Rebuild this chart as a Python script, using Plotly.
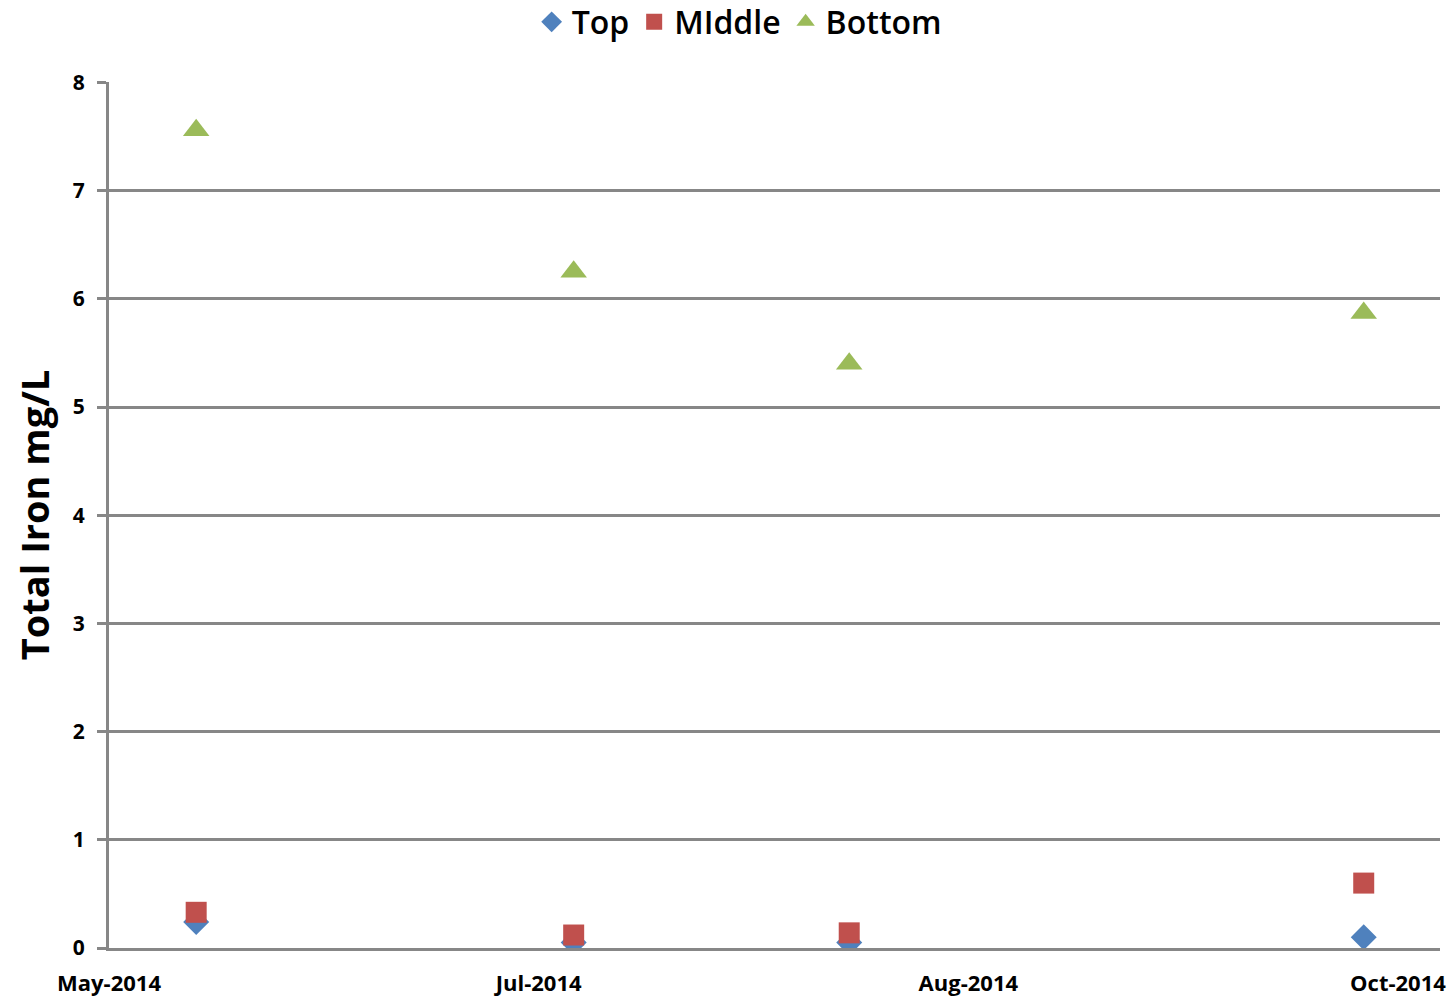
import plotly.graph_objects as go

# Sampling dates and total iron concentrations (mg/L) at three depths
dates = ["2014-05-29 08:00", "2014-07-08 18:00", "2014-08-07 06:00", "2014-10-01 08:00"]
top = [0.24, 0.05, 0.05, 0.10]
middle = [0.33, 0.12, 0.14, 0.60]
bottom = [7.56, 6.25, 5.40, 5.87]

tick_dates = ["2014-05-20", "2014-07-05", "2014-08-20", "2014-10-05"]
y_ticks = [0, 1, 2, 3, 4, 5, 6, 7, 8]

GRID = "#878787"
FONT = "Open Sans"

fig = go.Figure()
fig.add_trace(go.Scatter(
    x=dates, y=top, mode="markers", name="Top",
    marker=dict(symbol="diamond", size=20, color="#4F81BD"),
))
fig.add_trace(go.Scatter(
    x=dates, y=middle, mode="markers", name="MIddle",
    marker=dict(symbol="square", size=21, color="#C0504D"),
))
fig.add_trace(go.Scatter(
    x=dates, y=bottom, mode="markers", name="Bottom",
    marker=dict(symbol="triangle-up", size=23, color="#9BBB59"),
))

fig.update_layout(
    width=1455, height=1000,
    margin=dict(l=109, r=15, t=82, b=52),
    paper_bgcolor="white", plot_bgcolor="white",
    font=dict(family=FONT, color="black"),
    showlegend=True,
    legend=dict(
        orientation="h", x=0.508, xanchor="center", xref="container",
        y=0.978, yanchor="middle", yref="container",
        font=dict(size=32, family=FONT, color="black", weight=600),
        itemsizing="trace", itemwidth=30,
    ),
)

fig.update_xaxes(
    type="date",
    range=["2014-05-20", "2014-10-09 12:00"],
    tickvals=tick_dates, tickformat="%b-%Y",
    tickfont=dict(size=22, family=FONT, color="black", weight="bold"),
    showgrid=False, zeroline=False,
    showline=True, linecolor=GRID, linewidth=3,
    ticks="", ticklabelstandoff=14, automargin=False,
)
fig.update_yaxes(
    range=[0, 8.005], tickvals=y_ticks,
    tickfont=dict(size=21, family=FONT, color="black", weight="bold"),
    showgrid=True, gridcolor=GRID, gridwidth=3,
    zeroline=False,
    showline=True, linecolor=GRID, linewidth=3,
    ticks="outside", ticklen=9, tickwidth=3, tickcolor=GRID,
    ticklabelstandoff=8,
    title=dict(text="Total Iron mg/L", standoff=12,
               font=dict(size=38, family=FONT, color="black", weight="bold")),
)

fig.write_html("out.html")
